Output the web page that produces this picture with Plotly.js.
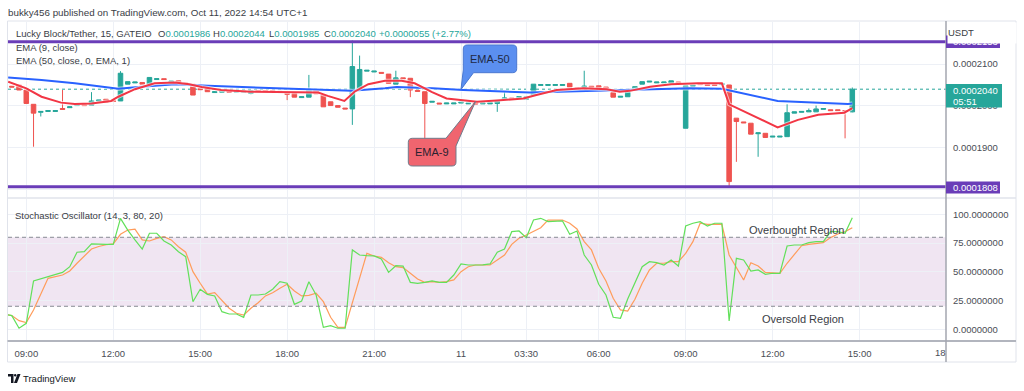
<!DOCTYPE html>
<html><head><meta charset="utf-8">
<script src="https://cdn.plot.ly/plotly-3.0.1.min.js"></script>
<style>html,body{margin:0;padding:0;background:#fff;}#chart{width:1024px;height:391px;}</style>
</head><body><div id="chart"></div>
<script>
// ---------- DATA ----------
const times = [
"10/10 08:30","10/10 08:45",
"10/10 09:00","10/10 09:15","10/10 09:30","10/10 09:45",
"10/10 10:00","10/10 10:15","10/10 10:30","10/10 10:45",
"10/10 11:00","10/10 11:15","10/10 11:30","10/10 11:45",
"10/10 12:00","10/10 12:15","10/10 12:30","10/10 12:45",
"10/10 13:00","10/10 13:15","10/10 13:30","10/10 13:45",
"10/10 14:00","10/10 14:15","10/10 14:30","10/10 14:45",
"10/10 15:00","10/10 15:15","10/10 15:30","10/10 15:45",
"10/10 16:00","10/10 16:15","10/10 16:30","10/10 16:45",
"10/10 17:00","10/10 17:15","10/10 17:30","10/10 17:45",
"10/10 18:00","10/10 18:15","10/10 18:30","10/10 18:45",
"10/10 19:00","10/10 19:15","10/10 19:30","10/10 19:45",
"10/10 20:00","10/10 20:15","10/10 20:30","10/10 20:45",
"10/10 21:00","10/10 21:15","10/10 21:30","10/10 21:45",
"10/10 22:00","10/10 22:15","10/10 22:30","10/10 22:45",
"10/10 23:00","10/10 23:15","10/10 23:30","10/10 23:45",
"10/11 00:00","10/11 00:15","10/11 00:30","10/11 00:45",
"10/11 01:00","10/11 01:15","10/11 01:30","10/11 01:45",
"10/11 02:00",
"10/11 03:30","10/11 03:45",
"10/11 04:00","10/11 04:15","10/11 04:30","10/11 04:45",
"10/11 05:00","10/11 05:15","10/11 05:30","10/11 05:45",
"10/11 06:00","10/11 06:15","10/11 06:30","10/11 06:45",
"10/11 07:00","10/11 07:15","10/11 07:30","10/11 07:45",
"10/11 08:00","10/11 08:15","10/11 08:30","10/11 08:45",
"10/11 09:00","10/11 09:15","10/11 09:30","10/11 09:45",
"10/11 10:00","10/11 10:15","10/11 10:30","10/11 10:45",
"10/11 11:00","10/11 11:15","10/11 11:30","10/11 11:45",
"10/11 12:00","10/11 12:15","10/11 12:30","10/11 12:45",
"10/11 13:00","10/11 13:15","10/11 13:30","10/11 13:45",
"10/11 14:00","10/11 14:15","10/11 14:30","10/11 14:45"];

const open = [
0.0002047,0.0002050,0.0002038,0.0002004,0.0001985,0.0001987,0.0001987,0.0001994,0.0001996,0.0002001,
0.0002003,0.0002002,0.0002012,0.0002016,0.0002013,0.0002012,0.0002052,0.0002055,0.0002056,0.0002052,
0.0002063,0.0002065,0.0002057,0.0002060,0.0002055,0.0002052,0.0002041,0.0002041,0.0002032,0.0002033,
0.0002035,0.0002033,0.0002033,0.0002030,0.0002037,0.0002037,0.0002037,0.0002035,0.0002030,0.0002030,
0.0002020,0.0002021,0.0002038,0.0002026,0.0002010,0.0002001,0.0001995,0.0001993,0.0002040,0.0002083,
0.0002081,0.0002080,0.0002076,0.0002052,0.0002067,0.0002066,0.0002037,0.0002034,0.0002009,0.0002007,
0.0002005,0.0002005,0.0002007,0.0002005,0.0002007,0.0002005,0.0002005,0.0002006,0.0002017,0.0002019,
0.0002020,0.0002016,0.0002026,0.0002049,0.0002049,0.0002049,0.0002049,0.0002054,0.0002043,0.0002045,
0.0002047,0.0002048,0.0002045,0.0002032,0.0002021,0.0002022,0.0002038,0.0002052,0.0002057,0.0002055,
0.0002055,0.0002055,0.0002057,0.0001947,0.0002047,0.0002053,0.0002051,0.0002051,0.0002051,0.0002050,
0.0001971,0.0001962,0.0001959,0.0001934,0.0001935,0.0001926,0.0001926,0.0001927,0.0001983,0.0001985,
0.0001986,0.0001986,0.0001992,0.0001991,0.0001991,0.0001989,0.0001986];
const high = [
0.0002047,0.0002050,0.0002038,0.0002004,0.0001987,0.0001989,0.0001989,0.0002038,0.0001998,0.0002003,
0.0002003,0.0002033,0.0002014,0.0002016,0.0002013,0.0002083,0.0002058,0.0002057,0.0002056,0.0002068,
0.0002065,0.0002065,0.0002059,0.0002060,0.0002055,0.0002052,0.0002041,0.0002041,0.0002034,0.0002035,
0.0002035,0.0002035,0.0002035,0.0002038,0.0002037,0.0002037,0.0002037,0.0002035,0.0002030,0.0002030,
0.0002022,0.0002074,0.0002038,0.0002026,0.0002010,0.0002001,0.0001995,0.0002156,0.0002120,0.0002085,
0.0002083,0.0002080,0.0002076,0.0002084,0.0002067,0.0002066,0.0002037,0.0002034,0.0002011,0.0002007,
0.0002007,0.0002007,0.0002009,0.0002007,0.0002007,0.0002007,0.0002008,0.0002012,0.0002033,0.0002019,
0.0002022,0.0002022,0.0002052,0.0002051,0.0002051,0.0002051,0.0002051,0.0002054,0.0002043,0.0002084,
0.0002047,0.0002048,0.0002045,0.0002032,0.0002023,0.0002033,0.0002046,0.0002058,0.0002059,0.0002057,
0.0002057,0.0002060,0.0002057,0.0002048,0.0002049,0.0002053,0.0002051,0.0002051,0.0002053,0.0002050,
0.0001971,0.0001962,0.0001959,0.0001936,0.0001935,0.0001928,0.0001928,0.0002004,0.0001986,0.0001987,
0.0001994,0.0002001,0.0001994,0.0001991,0.0001991,0.0001989,0.0002044];
const low = [
0.0002045,0.0002038,0.0002006,0.0001903,0.0001975,0.0001987,0.0001987,0.0001992,0.0001996,0.0002001,
0.0002001,0.0002002,0.0002012,0.0002009,0.0002011,0.0002012,0.0002052,0.0002055,0.0002052,0.0002052,
0.0002063,0.0002063,0.0002057,0.0002054,0.0002053,0.0002026,0.0002039,0.0002034,0.0002032,0.0002033,
0.0002033,0.0002033,0.0002033,0.0002028,0.0002035,0.0002035,0.0002035,0.0002033,0.0002014,0.0002021,
0.0002020,0.0002021,0.0002029,0.0001998,0.0002001,0.0001997,0.0001993,0.0001955,0.0002040,0.0002083,
0.0002081,0.0002078,0.0002054,0.0002052,0.0002065,0.0002021,0.0002035,0.0001912,0.0002009,0.0002005,
0.0002005,0.0002005,0.0002007,0.0002005,0.0002005,0.0002005,0.0002005,0.0001986,0.0002017,0.0002017,
0.0002020,0.0002016,0.0002026,0.0002049,0.0002049,0.0002049,0.0002049,0.0002045,0.0002041,0.0002045,
0.0002045,0.0002042,0.0002038,0.0002021,0.0002021,0.0002022,0.0002038,0.0002052,0.0002057,0.0002055,
0.0002055,0.0002055,0.0002055,0.0001947,0.0002047,0.0002051,0.0002049,0.0002049,0.0002051,0.0001808,
0.0001867,0.0001960,0.0001933,0.0001879,0.0001925,0.0001926,0.0001926,0.0001927,0.0001983,0.0001985,
0.0001986,0.0001986,0.0001992,0.0001989,0.0001989,0.0001923,0.0001985];
const close = [
0.0002045,0.0002038,0.0002006,0.0001983,0.0001987,0.0001989,0.0001989,0.0001992,0.0001998,0.0002003,
0.0002001,0.0002012,0.0002014,0.0002009,0.0002011,0.0002078,0.0002058,0.0002057,0.0002052,0.0002068,
0.0002065,0.0002063,0.0002059,0.0002054,0.0002053,0.0002026,0.0002039,0.0002034,0.0002034,0.0002035,
0.0002033,0.0002035,0.0002035,0.0002036,0.0002035,0.0002035,0.0002035,0.0002033,0.0002028,0.0002021,
0.0002022,0.0002038,0.0002029,0.0001998,0.0002001,0.0001997,0.0001993,0.0002094,0.0002087,0.0002085,
0.0002083,0.0002078,0.0002054,0.0002067,0.0002065,0.0002038,0.0002035,0.0002006,0.0002011,0.0002005,
0.0002007,0.0002007,0.0002009,0.0002007,0.0002005,0.0002007,0.0002008,0.0002012,0.0002019,0.0002017,
0.0002022,0.0002022,0.0002052,0.0002051,0.0002051,0.0002051,0.0002051,0.0002045,0.0002041,0.0002047,
0.0002045,0.0002042,0.0002038,0.0002021,0.0002023,0.0002033,0.0002046,0.0002058,0.0002059,0.0002057,
0.0002057,0.0002060,0.0002055,0.0002048,0.0002049,0.0002051,0.0002049,0.0002049,0.0002053,0.0001820,
0.0001963,0.0001960,0.0001933,0.0001936,0.0001925,0.0001928,0.0001928,0.0001984,0.0001986,0.0001987,
0.0001989,0.0001993,0.0001994,0.0001989,0.0001989,0.0001987,0.0002040];

// EMA lines (bar position, value)
const ema9Pos = [-0.5,2,4.1,6.8,8.7,11,13.7,14.7,17,19.7,22.5,24.5,26.2,28.9,33,37.7,42.3,43.6,45.9,47.3,49.2,51.5,53.8,55.6,58,60,62.3,64.2,66.9,70.6,72.4,75.2,78.9,82.1,83.9,85.3,88.1,91,94.7,98,99,105.7,108.5,111.3,114.9,116];
const ema9 = [0.0002058,0.0002042,0.0002022,0.0002008,0.0002005,0.0002006,0.0002012,0.0002022,0.0002040,0.0002054,0.0002056,0.0002052,0.0002045,0.0002038,0.0002034,0.0002033,0.0002032,0.0002024,0.0002012,0.0002034,0.0002052,0.0002060,0.0002060,0.0002054,0.0002033,0.0002018,0.0002013,0.0002010,0.0002013,0.0002018,0.0002026,0.0002038,0.0002042,0.0002040,0.0002034,0.0002036,0.0002046,0.0002052,0.0002054,0.0002054,0.0002004,0.0001949,0.0001967,0.0001979,0.0001984,0.0001995];
const ema50Pos = [-0.5,4.1,8.7,13.3,14.7,17.9,22.5,27.1,37.7,43.9,46.9,51.5,53.1,58.1,62.3,71.5,80.7,93.6,98,105.7,115.4,116];
const ema50 = [0.0002068,0.0002062,0.0002054,0.0002045,0.0002041,0.0002046,0.0002052,0.0002048,0.0002042,0.0002038,0.0002036,0.0002042,0.0002045,0.0002042,0.0002038,0.0002032,0.0002036,0.0002042,0.0002041,0.0002012,0.0002005,0.0002006];

// Stochastic %K and %D
const kPos = [-1,0,1,2,3,5,7,8,9,10,11,13,14,15,16,17,18,19,20,21,22,23,24,25,26,27,28,29,30,31,32,33,34,35,36,37,38,39,40,41,42,43,44,45,46,47,48,49,50,51,52,53,54,55,56,57,58,59,60,61,62,63,64,65,66,67,68,69,70,71,72,73,74,75,76,77,78,79,80,81,82,83,84,85,86,87,88,89,90,91,92,93,94,95,96,97,98,99,100,101,102,103,104,105,106,107,108,109,110,111,112,113,114,115,116];
const kVal = [13,11.9,0.9,5.2,42,45.7,49.5,54.4,67,67.5,74.2,73.9,73.9,96.5,86.3,77.7,69.8,83.5,83.5,76.8,73.3,67.5,63.1,24,34.8,30.4,29,15.3,13.3,13.3,10.4,29.8,29.8,30.7,34.8,41.4,40,21.7,24.6,41.4,29.8,1.7,3.1,0.9,0.9,69,64.6,64,63.8,61.1,49.5,55.3,55,40.8,40,40.8,42,40.8,40.8,47.2,56.8,55.9,55.9,56,56.8,67,69.8,84.9,85.5,79.7,95,96.5,93.6,94.2,94.2,82.6,85.5,64.6,55.9,39.1,29.8,10.4,9.6,26.3,40,54.4,58.8,57.9,55.9,60.3,55,89.8,92.2,93.6,89.8,92.2,92.2,7.2,61.7,60.3,50.7,51.6,47.8,48.7,48.7,72.4,73.3,73.3,75.3,76.2,76.2,84.9,84.9,83.5,97];
const dPos = [-1,0,1,2,3,5,7,8,9,11,12,13,14,15,16,17,18,19,20,21,22,23,24,25,26,27,28,29,30,31,32,33,34,35,36,37,38,39,40,41,42,43,44,45,46,49,50,51,52,53,54,55,56,57,58,59,60,61,62,63,64,66,67,68,69,70,71,72,73,74,76,77,78,79,80,81,82,83,84,85,86,87,88,89,90,91,92,93,94,95,96,97,98,99,100,101,102,103,104,106,107,108,109,110,111,112,113,114,115,116];
const dVal = [13,11.9,7.5,5.8,16.8,44.3,47.2,50.7,57.4,69.8,72,73.5,74.2,82.6,86.3,87,77.7,76.8,79.1,80.5,77.7,71.8,67,50.1,40,30.7,31.8,24.6,18.3,13.9,12.4,18.3,23.1,29,31.8,35.7,39.1,33.3,29,29.5,31.3,24,10.4,1.7,1.7,66,63.7,62.6,57.9,54.4,53.6,48.7,43.7,40.8,41.4,40.8,41.4,42.9,50.1,54.4,55.9,55.9,60.3,64.6,73.9,79.1,82,85.5,88.3,95,95,92.2,87.2,76.2,69,53,42,27,16.8,15.9,26.1,40,51.6,57.4,57.4,58.8,58.8,66,76.2,92.2,91.3,91.3,91.3,64.6,53.6,42.9,57.9,55,49.5,48.7,57.4,65.2,72.7,73.9,74.8,75.3,79.7,82.9,84.9,88.3];

const levels = [0.0002153, 0.0001808];
const lastPrice = 0.0002040;
const priceTicks = [0.00018, 0.00019, 0.00020, 0.00021];
const priceTickText = ["", "0.0001900", "0.0002000", "0.0002100"];
const stochTicks = [0, 25, 50, 75, 100];
const stochBands = [20, 80];
const timeTickPos = [2, 14, 26, 38, 50, 62, 71, 81, 93, 105, 117];
const timeTickText = ["09:00","12:00","15:00","18:00","21:00","11","03:30","06:00","09:00","12:00","15:00"];

// ---------- GEOMETRY HELPERS ----------
const FONT = 'Liberation Sans, Arial, sans-serif';
const L = 8, R = 946, T = 22, B = 341;
const X = p => (p - L) / (R - L);
const Y = p => (B - p) / (B - T);
const pt = (x, y) => X(x).toFixed(5) + ',' + Y(y).toFixed(5);

const barX = times.map((t, k) => k);

const traces = [
  {type:'candlestick', x: barX, open, high, low, close, xaxis:'x', yaxis:'y',
   increasing:{line:{color:'#26a69a', width:1}, fillcolor:'#26a69a'},
   decreasing:{line:{color:'#ef5350', width:1}, fillcolor:'#ef5350'},
   whiskerwidth:0, hoverinfo:'skip', showlegend:false},
  {type:'scatter', mode:'lines', x: ema50Pos, y: ema50, xaxis:'x', yaxis:'y',
   line:{color:'rgba(255,255,255,0.6)', width:4}, hoverinfo:'skip', showlegend:false},
  {type:'scatter', mode:'lines', x: ema50Pos, y: ema50, xaxis:'x', yaxis:'y',
   line:{color:'#2962ff', width:2}, hoverinfo:'skip', showlegend:false},
  {type:'scatter', mode:'lines', x: ema9Pos, y: ema9, xaxis:'x', yaxis:'y',
   line:{color:'rgba(255,255,255,0.6)', width:4}, hoverinfo:'skip', showlegend:false},
  {type:'scatter', mode:'lines', x: ema9Pos, y: ema9, xaxis:'x', yaxis:'y',
   line:{color:'#f23645', width:2}, hoverinfo:'skip', showlegend:false},
  {type:'scatter', mode:'lines', x: dPos, y: dVal, xaxis:'x', yaxis:'y2',
   line:{color:'#ff9c5b', width:1.2}, hoverinfo:'skip', showlegend:false},
  {type:'scatter', mode:'lines', x: kPos, y: kVal, xaxis:'x', yaxis:'y2',
   line:{color:'#62e05a', width:1.2}, hoverinfo:'skip', showlegend:false}
];

const shapes = [
  // stochastic band
  {type:'rect', xref:'paper', yref:'y2', x0:0, x1:1, y0:stochBands[0], y1:stochBands[1],
   fillcolor:'rgba(150,70,165,0.14)', line:{width:0}, layer:'below'},
  {type:'line', xref:'paper', yref:'y2', x0:0, x1:1, y0:stochBands[1], y1:stochBands[1],
   line:{color:'#888b94', width:1, dash:'4px,3px'}, layer:'above'},
  {type:'line', xref:'paper', yref:'y2', x0:0, x1:1, y0:stochBands[0], y1:stochBands[0],
   line:{color:'#888b94', width:1, dash:'4px,3px'}, layer:'above'},
  // last price dotted
  {type:'line', xref:'paper', yref:'y', x0:0, x1:1, y0:lastPrice, y1:lastPrice,
   line:{color:'#26a69a', width:1, dash:'dot'}, layer:'below'},
  // horizontal levels
  {type:'line', xref:'paper', yref:'y', x0:0, x1:1, y0:levels[0], y1:levels[0],
   line:{color:'#6a3db8', width:3}, layer:'above'},
  {type:'line', xref:'paper', yref:'y', x0:0, x1:1, y0:levels[1], y1:levels[1],
   line:{color:'#6a3db8', width:3}, layer:'above'},
  // frame
  {type:'rect', xref:'paper', yref:'paper', x0:X(7.5), x1:X(1016), y0:Y(21), y1:Y(362),
   line:{color:'#e0e3eb', width:1}, fillcolor:'rgba(0,0,0,0)', layer:'above'},
  // pane separator
  {type:'line', xref:'paper', yref:'paper', x0:X(7.5), x1:X(1016), y0:Y(198), y1:Y(198),
   line:{color:'#e0e3eb', width:1.5}, layer:'above'},
  // time axis line
  {type:'line', xref:'paper', yref:'paper', x0:X(7.5), x1:X(1016), y0:Y(341), y1:Y(341),
   line:{color:'#b2b5be', width:2}, layer:'above'},
  // price axis vertical line
  {type:'line', xref:'paper', yref:'paper', x0:X(946), x1:X(946), y0:Y(21), y1:Y(362),
   line:{color:'#a3a6af', width:1.5}, layer:'above'},
  // label boxes
  {type:'rect', xref:'paper', yref:'paper', x0:X(946), x1:X(1000), y0:Y(35.5), y1:Y(48),
   fillcolor:'#6a3db8', line:{width:0}, layer:'above'},
  {type:'rect', xref:'paper', yref:'paper', x0:X(946), x1:X(1000), y0:Y(181.5), y1:Y(193.5),
   fillcolor:'#6a3db8', line:{width:0}, layer:'above'},
  {type:'rect', xref:'paper', yref:'paper', x0:X(946), x1:X(1002), y0:Y(84), y1:Y(107.5),
   fillcolor:'#26a69a', line:{width:0}, layer:'above'},
  // EMA-50 callout
  {type:'path', xref:'paper', yref:'paper', layer:'above',
   path:`M${pt(463.3,49)} Q${pt(463.3,45)} ${pt(467.3,45)} L${pt(512.7,45)} Q${pt(516.7,45)} ${pt(516.7,49)} L${pt(516.7,68.7)} Q${pt(516.7,72.7)} ${pt(512.7,72.7)} L${pt(473.5,72.7)} L${pt(461,89.5)} L${pt(463.3,70)} Z`,
   fillcolor:'#5b8ff0', line:{color:'#4a78d0', width:1}},
  // EMA-9 callout
  {type:'path', xref:'paper', yref:'paper', layer:'above',
   path:`M${pt(408.3,142.3)} Q${pt(408.3,138.3)} ${pt(412.3,138.3)} L${pt(446,138.3)} L${pt(475.5,101.5)} L${pt(456,146)} L${pt(456,162)} Q${pt(456,166)} ${pt(452,166)} L${pt(412.3,166)} Q${pt(408.3,166)} ${pt(408.3,162)} Z`,
   fillcolor:'#f0656f', line:{color:'#6f7b8b', width:1}},
  // TradingView logo
  {type:'path', xref:'paper', yref:'paper', layer:'above',
   path:`M${pt(8,374)} L${pt(13.5,374)} L${pt(13.5,383)} L${pt(11,383)} L${pt(11,376.5)} L${pt(8,376.5)} Z`,
   fillcolor:'#131722', line:{width:0}},
  {type:'circle', xref:'paper', yref:'paper', layer:'above', x0:X(14), x1:X(16.4), y0:Y(374), y1:Y(376.4),
   fillcolor:'#131722', line:{width:0}},
  {type:'path', xref:'paper', yref:'paper', layer:'above',
   path:`M${pt(17.5,374)} L${pt(20.5,374)} L${pt(17,383)} L${pt(14,383)} Z`,
   fillcolor:'#131722', line:{width:0}}
];

const ann = (x, y, text, o) => Object.assign({xref:'paper', yref:'paper', x:X(x), y:Y(y), text,
  showarrow:false, xanchor:'left', yanchor:'middle', borderpad:0,
  font:{family:FONT, size:9.5, color:'#3a3d45'}}, o || {});
const G = s => `<span style="color:#26a69a">${s}</span>`;

const annotations = [
  ann(7, 12.5, 'bukky456 published on TradingView.com, Oct 11, 2022 14:54 UTC+1', {font:{family:FONT,size:9.8,color:'#3a3d45'}}),
  ann(14.5, 33.3, 'Lucky Block/Tether, 15, GATEIO'),
  ann(156.5, 33.3, 'O' + G('0.0001986')),
  ann(211.8, 33.3, 'H' + G('0.0002044')),
  ann(267.5, 33.3, 'L' + G('0.0001985')),
  ann(322.5, 33.3, 'C' + G('0.0002040')),
  ann(377.5, 33.3, G('+0.0000055 (+2.77%)')),
  ann(14.5, 47.3, 'EMA (9, close)'),
  ann(14.5, 60.7, 'EMA (50, close, 0, EMA, 1)'),
  ann(14.3, 215.7, 'Stochastic Oscillator (14, 3, 80, 20)'),
  ann(845, 229.5, 'Overbought Region', {xanchor:'right', font:{family:FONT,size:11,color:'#3a3d45'}}),
  ann(845, 319, 'Oversold Region', {xanchor:'right', font:{family:FONT,size:11,color:'#3a3d45'}}),
  ann(490, 58.8, 'EMA-50', {xanchor:'center', font:{family:FONT,size:11,color:'#1f2a44'}}),
  ann(432.2, 152.2, 'EMA-9', {xanchor:'center', font:{family:FONT,size:11,color:'#2a2230'}}),
  ann(940.5, 352, '18', {xanchor:'center', font:{family:FONT,size:9.5,color:'#4a4d55'}}),
  ann(952, 41.8, '0.0002153', {font:{family:FONT,size:9.5,color:'#ffffff'}}),
  ann(947, 21.5, 'USDT', {yanchor:'top', width:68, height:19.5, align:'left', bgcolor:'#ffffff',
     font:{family:FONT,size:9.5,color:'#3a3d45'}}),
  ann(952, 187.5, '0.0001808', {font:{family:FONT,size:9.5,color:'#ffffff'}}),
  ann(952, 90, '0.0002040', {font:{family:FONT,size:9.5,color:'#ffffff'}}),
  ann(952, 101.3, '05:51', {font:{family:FONT,size:9.5,color:'#ffffff'}}),
  ann(22, 378.5, 'TradingView', {font:{family:FONT,size:9.5,color:'#131722'}})
];

const layout = {
  width:1024, height:391,
  margin:{l:L, r:1024-R, t:T, b:391-B, pad:0},
  paper_bgcolor:'#ffffff', plot_bgcolor:'#ffffff',
  showlegend:false, hovermode:false,
  boxgap:0.2, boxgroupgap:0.22,
  xaxis:{domain:[0,1], anchor:'y2', range:[-0.525, 128.93], tickmode:'array',
    tickvals:timeTickPos, ticktext:timeTickText, showgrid:true, gridcolor:'#edf0f6', gridwidth:1,
    zeroline:false, showline:false, ticks:'', ticklabelstandoff:5,
    tickfont:{family:FONT, size:9.5, color:'#4a4d55'}, rangeslider:{visible:false}, fixedrange:true},
  yaxis:{domain:[Y(197), 1], anchor:'x', side:'right', range:[0.00017833, 0.00022],
    tickmode:'array', tickvals:priceTicks, ticktext:priceTickText, showgrid:true, gridcolor:'#edf0f6',
    zeroline:false, showline:false, ticks:'', ticklabelstandoff:6,
    tickfont:{family:FONT, size:9.5, color:'#4a4d55'}, fixedrange:true},
  yaxis2:{domain:[0, Y(199)], anchor:'x', side:'right', range:[-10.2, 113.3],
    tickmode:'array', tickvals:stochTicks, tickformat:'.7f', showgrid:true, gridcolor:'#edf0f6',
    zeroline:false, showline:false, ticks:'', ticklabelstandoff:6,
    tickfont:{family:FONT, size:9.5, color:'#4a4d55'}, fixedrange:true},
  shapes, annotations
};

Plotly.newPlot('chart', traces, layout, {displayModeBar:false, staticPlot:true});
</script></body></html>
